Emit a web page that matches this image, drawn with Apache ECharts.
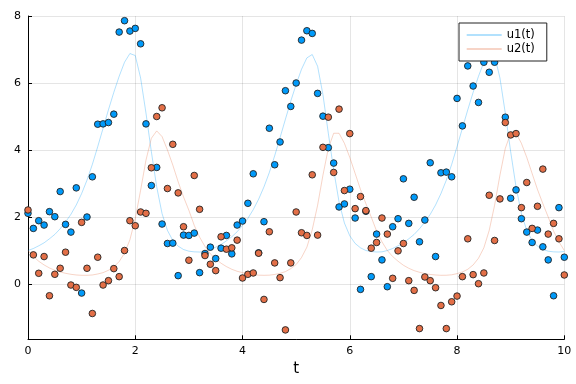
<!DOCTYPE html>
<html><head><meta charset="utf-8">
<script src="https://cdn.jsdelivr.net/npm/echarts@6/dist/echarts.min.js"></script>
<style>html,body{margin:0;padding:0;background:#fff}#c{width:576px;height:384px}</style>
</head><body><div id="c"></div>
<script>
const times = [0.0,0.1,0.2,0.3,0.4,0.5,0.6,0.7,0.8,0.9,
1.0,1.1,1.2,1.3,1.4,1.5,1.6,1.7,1.8,1.9,
2.0,2.1,2.2,2.3,2.4,2.5,2.6,2.7,2.8,2.9,
3.0,3.1,3.2,3.3,3.4,3.5,3.6,3.7,3.8,3.9,
4.0,4.1,4.2,4.3,4.4,4.5,4.6,4.7,4.8,4.9,
5.0,5.1,5.2,5.3,5.4,5.5,5.6,5.7,5.8,5.9,
6.0,6.1,6.2,6.3,6.4,6.5,6.6,6.7,6.8,6.9,
7.0,7.1,7.2,7.3,7.4,7.5,7.6,7.7,7.8,7.9,
8.0,8.1,8.2,8.3,8.4,8.5,8.6,8.7,8.8,8.9,
9.0,9.1,9.2,9.3,9.4,9.5,9.6,9.7,9.8,9.9,10.0];

const u1Line = [1.00,1.06,1.14,1.23,1.35,1.48,1.65,1.85,2.08,2.36,
2.70,3.10,3.57,4.10,4.65,5.20,5.72,6.20,6.62,6.88,
6.82,6.15,5.10,3.95,2.90,2.10,1.60,1.30,1.13,1.03,
0.98,0.96,0.955,0.97,1.03,1.10,1.18,1.29,1.41,1.56,
1.75,1.96,2.22,2.53,2.90,3.33,3.83,4.37,4.92,5.46,
5.96,6.41,6.75,6.85,6.50,5.65,4.50,3.40,2.45,1.82,
1.44,1.21,1.08,1.00,0.97,0.955,0.96,1.00,1.06,1.14,
1.23,1.35,1.48,1.65,1.85,2.08,2.36,2.70,3.10,3.57,
4.10,4.65,5.20,5.72,6.20,6.62,6.88,6.82,6.15,5.10,
3.95,2.90,2.10,1.60,1.30,1.13,1.03,0.98,0.96,0.955,0.97];

const u2Line = [1.00,0.82,0.68,0.57,0.48,0.41,0.36,0.32,0.29,0.27,
0.26,0.26,0.27,0.30,0.34,0.41,0.51,0.67,0.92,1.32,
1.95,2.80,3.70,4.35,4.57,4.40,4.00,3.55,3.05,2.60,
2.20,1.75,1.40,1.12,0.90,0.75,0.62,0.52,0.44,0.38,
0.34,0.30,0.28,0.265,0.26,0.265,0.285,0.32,0.37,0.46,
0.58,0.79,1.10,1.62,2.35,3.25,4.05,4.50,4.50,4.20,
3.78,3.30,2.82,2.40,2.00,1.58,1.26,1.00,0.82,0.68,
0.56,0.47,0.40,0.35,0.31,0.285,0.27,0.26,0.262,0.275,
0.31,0.36,0.44,0.57,0.77,1.08,1.60,2.35,3.25,4.05,
4.50,4.50,4.20,3.78,3.30,2.82,2.40,2.00,1.58,1.26,1.00];

const u1Data = [2.11,1.66,1.89,1.76,2.16,2.01,2.76,1.78,1.55,2.87,
-0.27,2.00,3.20,4.77,4.78,4.82,5.07,7.52,7.86,7.55,
7.63,7.17,4.78,2.94,3.48,1.79,1.21,1.22,0.25,1.46,
1.45,1.52,0.34,0.91,1.10,0.76,1.07,1.45,0.90,1.76,
1.88,2.41,3.29,0.93,1.86,4.65,3.56,4.24,5.77,5.30,
6.00,7.28,7.56,7.48,5.69,5.01,4.07,3.61,2.30,2.39,
2.83,1.97,-0.16,2.17,0.22,1.49,0.72,-0.08,1.71,1.95,
3.14,1.81,2.59,1.26,1.91,3.62,0.82,3.32,3.34,3.20,
5.54,4.72,6.51,5.91,5.42,6.62,6.32,6.62,7.20,4.98,
2.56,2.81,1.95,1.55,1.24,1.61,1.11,0.72,-0.35,2.28,0.80];

const u2Data = [2.21,0.87,0.32,0.82,-0.35,0.29,0.47,0.95,-0.03,-0.10,
1.84,0.47,-0.88,0.80,-0.03,0.10,0.46,0.22,1.00,1.89,
1.74,2.15,2.11,3.47,5.00,5.26,2.85,4.17,2.72,1.71,
0.71,3.24,2.23,0.85,0.59,0.40,1.41,1.04,1.08,1.31,
0.18,0.29,0.33,0.92,-0.46,1.56,0.63,0.19,-1.37,0.63,
2.15,1.53,1.45,3.26,1.46,4.08,4.98,3.33,5.22,2.79,
4.49,2.25,2.61,2.19,1.07,1.24,1.97,1.49,0.17,0.99,
1.21,0.10,-0.19,-1.33,0.21,0.10,-0.11,-0.64,-1.33,-0.53,
-0.36,0.22,1.35,0.28,0.01,0.33,2.65,1.30,2.54,4.82,
4.45,4.49,2.28,3.03,1.66,2.32,3.43,1.49,1.81,1.35,0.27];

const xTicks = [0,2,4,6,8,10];
const yTicks = [0,2,4,6,8];
const seriesNames = ['u1(t)','u2(t)'];

const pair = arr => arr.map((v,i)=>[times[i], v]);
const chart = echarts.init(document.getElementById('c'), null, {renderer:'canvas'});
const axisCommon = {
  axisLine:{show:true,onZero:false,lineStyle:{color:'#000',width:1}},
  axisTick:{show:true,inside:true,length:4,lineStyle:{color:'#000'}},
  splitLine:{show:true,lineStyle:{color:'rgba(0,0,0,0.1)',width:1}}
};
chart.setOption({
  animation:false,
  backgroundColor:'#fff',
  textStyle:{fontFamily:'DejaVu Sans'},
  grid:{left:28,right:11.7,top:16,bottom:44.7},
  xAxis:Object.assign({type:'value',min:0,max:10,interval:2,
    name:'t',nameLocation:'middle',nameGap:21,
    nameTextStyle:{fontSize:15,color:'#000',fontFamily:'DejaVu Sans'},
    axisLabel:{color:'#000',fontSize:11,margin:6,
      formatter:v=>xTicks.includes(v)?String(v):''}},axisCommon),
  yAxis:Object.assign({type:'value',min:-1.65,max:8,splitNumber:5,
    axisLabel:{color:'#000',fontSize:11,margin:7,showMinLabel:false,
      formatter:v=>yTicks.includes(v)?String(v):''}},axisCommon),
  legend:{data:seriesNames,orient:'vertical',left:459,top:23,
    itemWidth:35,itemHeight:12,itemGap:2,padding:[6,12,6,6.7],
    backgroundColor:'#fff',borderColor:'#222',borderWidth:1,borderRadius:0,
    itemStyle:{opacity:0,borderWidth:0},
    textStyle:{fontSize:11.5,color:'#000',fontFamily:'DejaVu Sans'}},
  series:[
    {name:seriesNames[0],type:'line',data:pair(u1Line),symbol:'none',
     lineStyle:{color:'rgba(0,154,250,0.3)',width:1},itemStyle:{color:'rgba(0,154,250,0.3)'},z:2},
    {name:seriesNames[1],type:'line',data:pair(u2Line),symbol:'none',
     lineStyle:{color:'rgba(227,111,71,0.3)',width:1},itemStyle:{color:'rgba(227,111,71,0.3)'},z:2},
    {name:'data1',type:'scatter',data:pair(u1Data),symbolSize:6.6,
     itemStyle:{color:'#009AFA',borderColor:'#222',borderWidth:0.9,opacity:1},z:3},
    {name:'data2',type:'scatter',data:pair(u2Data),symbolSize:6.6,
     itemStyle:{color:'#E36F47',borderColor:'#222',borderWidth:0.9,opacity:1},z:3}
  ]
});
</script></body></html>
